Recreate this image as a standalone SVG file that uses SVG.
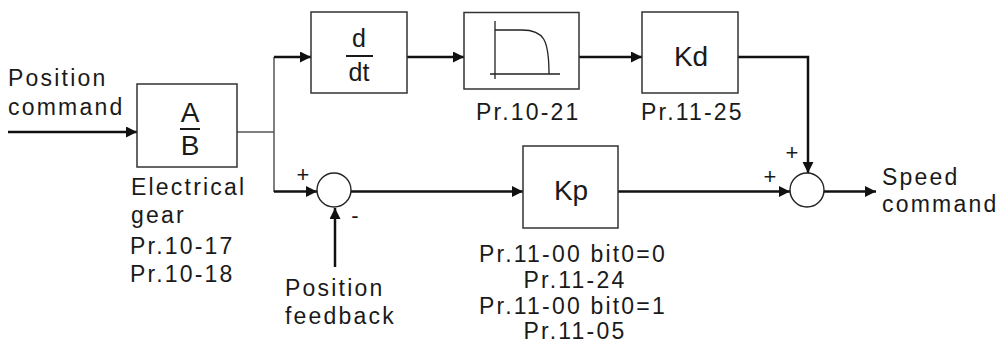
<svg xmlns="http://www.w3.org/2000/svg" width="999" height="344" viewBox="0 0 999 344">
<defs>
<marker id="arr" markerUnits="userSpaceOnUse" markerWidth="12" markerHeight="12" refX="11" refY="5.5" orient="auto">
<path d="M0,0 L11,5.5 L0,11 z" fill="#111"/>
</marker>
<style>
.box{fill:#fff;stroke:#333;stroke-width:1.5}
.sum{fill:#fff;stroke:#222;stroke-width:1.4}
.w{fill:none;stroke:#111;stroke-width:2.5}
.thin{fill:none;stroke:#555;stroke-width:1.5}
.t{font-family:"Liberation Sans",Arial,sans-serif;font-size:23px;letter-spacing:2.2px;fill:#1a1a1a}
.big{font-family:"Liberation Sans",Arial,sans-serif;font-size:28px;fill:#1a1a1a}
.s{font-family:"Liberation Sans",Arial,sans-serif;font-size:22px;fill:#1a1a1a}
</style>
</defs>
<rect width="999" height="344" fill="#fff"/>

<g id="connectors">
<path class="w" d="M8,132 H137" marker-end="url(#arr)"/>
<path class="thin" d="M237,132 H274 M274,57 V192"/>
<path class="w" d="M274,57 H311" marker-end="url(#arr)"/>
<path class="w" d="M274,191.5 H317" marker-end="url(#arr)"/>
<path class="w" d="M335,267 V208" marker-end="url(#arr)"/>
<path class="w" d="M351,191.5 H523" marker-end="url(#arr)"/>
<path class="w" d="M407,57 H464" marker-end="url(#arr)"/>
<path class="w" d="M579,57 H642" marker-end="url(#arr)"/>
<path class="w" d="M738,57 H808 V173" marker-end="url(#arr)"/>
<path class="w" d="M618,191.5 H790" marker-end="url(#arr)"/>
<path class="w" d="M824,191.5 H876" marker-end="url(#arr)"/>
</g>

<g id="input-label">
<text class="t" x="8" y="86">Position</text>
<text class="t" x="8" y="115">command</text>
</g>

<g id="gear">
<rect class="box" x="137" y="84" width="100" height="83"/>
<text class="big" x="190" y="122" text-anchor="middle">A</text>
<line x1="180" y1="129" x2="200" y2="129" stroke="#1a1a1a" stroke-width="2"/>
<text class="big" x="190" y="155" text-anchor="middle">B</text>
<text class="t" x="131" y="195">Electrical</text>
<text class="t" x="131" y="223">gear</text>
<text class="t" x="130" y="254">Pr.10-17</text>
<text class="t" x="130" y="282">Pr.10-18</text>
</g>

<g id="ddt">
<rect class="box" x="311" y="12" width="96" height="81"/>
<text class="big" x="359" y="47" text-anchor="middle" style="font-size:25px">d</text>
<line x1="346" y1="56" x2="373" y2="56" stroke="#1a1a1a" stroke-width="2"/>
<text class="big" x="359" y="81" text-anchor="middle" style="font-size:25px">dt</text>
</g>

<g id="filter">
<rect class="box" x="464" y="12.5" width="115" height="76.5"/>
<path d="M495,21 V79 M490,74 H560 M495,30 H522 C544,30 549,40 549,74" fill="none" stroke="#222" stroke-width="1.3"/>
<text class="t" x="476" y="120">Pr.10-21</text>
</g>

<g id="kd">
<rect class="box" x="642" y="12" width="96" height="81"/>
<text class="big" x="691" y="66" text-anchor="middle">Kd</text>
<text class="t" x="641" y="120">Pr.11-25</text>
</g>

<g id="sum1">
<circle class="sum" cx="334" cy="190" r="17"/>
<text class="s" x="303" y="182" text-anchor="middle">+</text>
<text class="s" x="355" y="223" text-anchor="middle">-</text>
</g>

<g id="feedback-label">
<text class="t" x="285" y="296">Position</text>
<text class="t" x="285" y="324">feedback</text>
</g>

<g id="kp">
<rect class="box" x="523" y="146" width="95" height="82"/>
<text class="big" x="571" y="200" text-anchor="middle">Kp</text>
<text class="t" x="573" y="262" text-anchor="middle">Pr.11-00 bit0=0</text>
<text class="t" x="575" y="288" text-anchor="middle">Pr.11-24</text>
<text class="t" x="573" y="314" text-anchor="middle">Pr.11-00 bit0=1</text>
<text class="t" x="575" y="339" text-anchor="middle">Pr.11-05</text>
</g>

<g id="sum2">
<circle class="sum" cx="807" cy="190" r="17"/>
<text class="s" x="770" y="184" text-anchor="middle">+</text>
<text class="s" x="792" y="160" text-anchor="middle">+</text>
</g>

<g id="output-label">
<text class="t" x="882" y="185">Speed</text>
<text class="t" x="882" y="212">command</text>
</g>
</svg>
